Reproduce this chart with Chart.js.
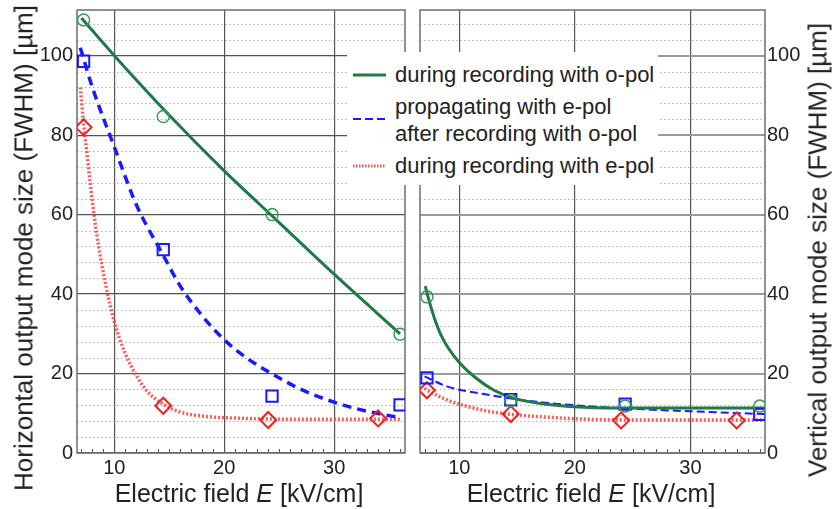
<!DOCTYPE html>
<html>
<head>
<meta charset="utf-8">
<script src="https://cdn.jsdelivr.net/npm/chart.js@4.4.1/dist/chart.umd.min.js"></script>
<style>
  body { margin: 0; background: #fff; }
  #wrap { position: relative; width: 833px; height: 509px; overflow: hidden; font-family: "Liberation Sans", Arial, sans-serif; color: #222; }
  canvas { position: absolute; top: 0; }
  #cLeft { left: 0; }
  #cRight { left: 410px; }
  .ytitle { position: absolute; white-space: nowrap; font-size: 26px; transform: translate(-50%, -50%) rotate(-90deg); }
  .xtitle { position: absolute; white-space: nowrap; font-size: 25px; transform: translate(-50%, -50%); }
  #legend { position: absolute; left: 347px; top: 52px; width: 311px; height: 133px; background: #fff; font-size: 22px; }
  #legend svg { position: absolute; left: 6px; top: 0; }
  #legend .txt { position: absolute; left: 48px; line-height: 27px; white-space: nowrap; }
</style>
</head>
<body>
<div id="wrap">
  <canvas id="cLeft" width="415" height="509"></canvas>
  <canvas id="cRight" width="423" height="509"></canvas>

  <div class="ytitle" style="left:24px; top:248px;">Horizontal output mode size (FWHM) [µm]</div>
  <div class="ytitle" style="left:818px; top:250px;">Vertical output mode size (FWHM) [µm]</div>
  <div class="xtitle" style="left:239px; top:493px;">Electric field <i>E</i> [kV/cm]</div>
  <div class="xtitle" style="left:591px; top:493px;">Electric field <i>E</i> [kV/cm]</div>

  <div id="legend">
    <svg width="36" height="133">
      <line x1="0" y1="23" x2="33" y2="23" stroke="#1f7a45" stroke-width="3"/>
      <line x1="0" y1="67" x2="33" y2="67" stroke="#1a1aff" stroke-width="2" stroke-dasharray="8 4"/>
      <line x1="0" y1="114" x2="33" y2="114" stroke="#ff5050" stroke-width="3" stroke-dasharray="1.5 1.5"/>
    </svg>
    <div class="txt" style="top:9px;">during recording with o-pol</div>
    <div class="txt" style="top:41px;">propagating with e-pol<br>after recording with o-pol</div>
    <div class="txt" style="top:100px;">during recording with e-pol</div>
  </div>
</div>

<script>
// Mediciones (marcadores)
const fieldE    = [7.2, 14.45, 24.35, 36.0];
const fieldERed = [7.2, 14.45, 24.0, 34.0];

const hOpol = [109, 84.7, 60, 29.9];
const hProp = [98.6, 51.2, 14.3, 12.1];
const hEpol = [82, 11.9, 8.3, 8.7];

const vOpol = [39.3, 13.2, 11.8, 11.8];
const vProp = [18.9, 13.4, 12.3, 9.7];
const vEpol = [15.8, 9.8, 8.2, 8.2];

// Curvas de ajuste
const hOpolFitE = [7.0, 10, 15, 20, 25, 30, 36];
const hOpolFit  = [109.5, 100, 85, 71, 58, 45, 30];
const hPropFitE = [6.9, 8, 10, 12, 14.5, 16, 18, 20, 22, 24.3, 27, 30, 33, 36];
const hPropFit  = [102, 92, 77, 62.5, 49.5, 42, 34.5, 28.5, 24, 20, 16, 12.8, 10.5, 8.9];
const hEpolFitE = [6.9, 7.2, 7.5, 7.8, 8.2, 8.6, 9.2, 10, 11, 12, 13, 14.5, 16, 18, 22, 28, 36];
const hEpolFit  = [92, 83, 75.5, 68, 59, 51.5, 42.5, 33, 25, 19.5, 15.5, 12.2, 10.3, 9.3, 8.7, 8.5, 8.5];

const vOpolFitE = [7.05, 7.3, 7.6, 7.9, 8.4, 9, 10, 11.3, 13, 14.8, 17.7, 21.7, 28, 36.4];
const vOpolFit  = [42, 39.3, 36.2, 33.5, 29.8, 26.6, 22.8, 19.2, 15.8, 13.7, 12.2, 11.4, 11.3, 11.3];
const vPropFitE = [7.0, 9, 12, 14.5, 17.7, 21.5, 26, 30, 36.4];
const vPropFit  = [19.3, 16.7, 14.9, 13.7, 12.6, 11.7, 11.0, 10.5, 9.8];
const vEpolFitE = [7.0, 7.3, 9, 12, 14.5, 17.7, 21.7, 28, 36.4];
const vEpolFit  = [16.3, 15.7, 13.3, 10.8, 9.7, 9.0, 8.45, 8.3, 8.3];

// Ejes
const xMin = 6.6, xMax = 36.45;
const yMin = 0, yMax = 111.5;
const yMinorTicks = [4, 8, 12, 16, 24, 28, 32, 36, 44, 48, 52, 56, 64, 68, 72, 76, 84, 88, 92, 96, 104, 108];
const xMinorTicks = [7, 8, 9, 11, 12, 13, 14, 15, 16, 17, 18, 19, 21, 22, 23, 24, 25, 26, 27, 28, 29, 31, 32, 33, 34, 35, 36];

const GREEN = '#1f7a45', GREEN_MK = '#3a9a5e';
const BLUE = '#1a1aff';
const RED = 'rgba(255,60,60,0.85)', RED_MK = '#ff1a1a';
const TICK_FONT = { family: '"Liberation Sans", Arial, sans-serif', size: 20 };

const pts = (xs, ys) => xs.map((x, i) => ({ x: x, y: ys[i] }));

function fitLine(data, color, width, dash) {
    return {
        type: 'line', data, showLine: true,
        borderColor: color, borderWidth: width, borderDash: dash,
        pointRadius: 0, cubicInterpolationMode: 'monotone', fill: false, order: 2
    };
}
function markers(data, color, style, r, bw) {
    return {
        type: 'scatter', data, showLine: false,
        pointStyle: style, pointRadius: r, pointBorderWidth: bw,
        pointBorderColor: color, pointBackgroundColor: 'rgba(0,0,0,0)',
        borderColor: color, backgroundColor: 'rgba(0,0,0,0)', order: 1
    };
}

// Rejilla menor punteada, marcas menores en x y marco
const panelDecor = {
    id: 'panelDecor',
    beforeDatasetsDraw(chart) {
        const { ctx, chartArea: a, scales: { x, y } } = chart;
        ctx.save();
        ctx.strokeStyle = '#b0b0b0';
        ctx.lineWidth = 1;
        ctx.setLineDash([1.5, 2.5]);
        yMinorTicks.forEach(v => {
            const py = Math.round(y.getPixelForValue(v)) + 0.5;
            ctx.beginPath(); ctx.moveTo(a.left, py); ctx.lineTo(a.right, py); ctx.stroke();
        });
        ctx.setLineDash([]);
        ctx.strokeStyle = '#555';
        xMinorTicks.forEach(e => {
            const px = Math.round(x.getPixelForValue(e)) + 0.5;
            ctx.beginPath(); ctx.moveTo(px, a.bottom); ctx.lineTo(px, a.bottom - 4); ctx.stroke();
        });
        ctx.strokeStyle = '#6e6e6e';
        ctx.lineWidth = 1.5;
        ctx.strokeRect(a.left, a.top, a.right - a.left, a.bottom - a.top);
        ctx.restore();
    }
};

// quitar el relleno automatico que Chart.js deja para las etiquetas
function noPad(s) {
    s.paddingTop = 0; s.paddingBottom = 0; s.paddingLeft = 0; s.paddingRight = 0;
}

function buildPanel(canvasId, side, sets, hGridColor, hGridWidth) {
    return new Chart(document.getElementById(canvasId), {
        type: 'scatter',
        data: { datasets: sets },
        options: {
            responsive: false,
            animation: false,
            devicePixelRatio: 1,
            layout: { padding: side === 'left' ? { top: 5, right: 10, left: 0, bottom: 0 } : { top: 6, right: 0, left: 10, bottom: 0 } },
            plugins: { legend: { display: false }, tooltip: { enabled: false } },
            scales: {
                x: {
                    type: 'linear', min: xMin, max: xMax,
                    afterFit: s => { s.height = 56; noPad(s); },
                    ticks: { stepSize: 10, includeBounds: false, font: TICK_FONT, color: '#222', padding: 3 },
                    grid: { color: '#555', lineWidth: 1.2, drawTicks: false },
                    border: { display: false }
                },
                y: {
                    type: 'linear', position: side, min: yMin, max: yMax,
                    afterFit: s => { s.width = side === 'left' ? 77 : 68; noPad(s); },
                    ticks: { stepSize: 20, includeBounds: false, font: TICK_FONT, color: '#222', padding: side === 'left' ? 4 : 2 },
                    grid: { color: hGridColor, lineWidth: hGridWidth, drawTicks: false },
                    border: { display: false }
                }
            }
        },
        plugins: [panelDecor]
    });
}

buildPanel('cLeft', 'left', [
    fitLine(pts(hOpolFitE, hOpolFit), GREEN, 3, []),
    fitLine(pts(hPropFitE, hPropFit), BLUE, 3.5, [9, 6]),
    fitLine(pts(hEpolFitE, hEpolFit), RED, 3.5, [2, 2]),
    markers(pts(fieldE, hOpol), GREEN_MK, 'circle', 6, 1.5),
    markers(pts(fieldE, hProp), BLUE, 'rect', 8, 2),
    markers(pts(fieldERed, hEpol), RED_MK, 'rectRot', 8, 2)
], '#555', 1.2);

buildPanel('cRight', 'right', [
    fitLine(pts(vOpolFitE, vOpolFit), GREEN, 3, []),
    fitLine(pts(vPropFitE, vPropFit), BLUE, 2, [8, 4]),
    fitLine(pts(vEpolFitE, vEpolFit), RED, 3.5, [2, 2]),
    markers(pts(fieldE, vOpol), GREEN_MK, 'circle', 6, 1.5),
    markers(pts(fieldE, vProp), BLUE, 'rect', 8, 2),
    markers(pts(fieldERed, vEpol), RED_MK, 'rectRot', 8, 2)
], '#9a9a9a', 2);
</script>
</body>
</html>
